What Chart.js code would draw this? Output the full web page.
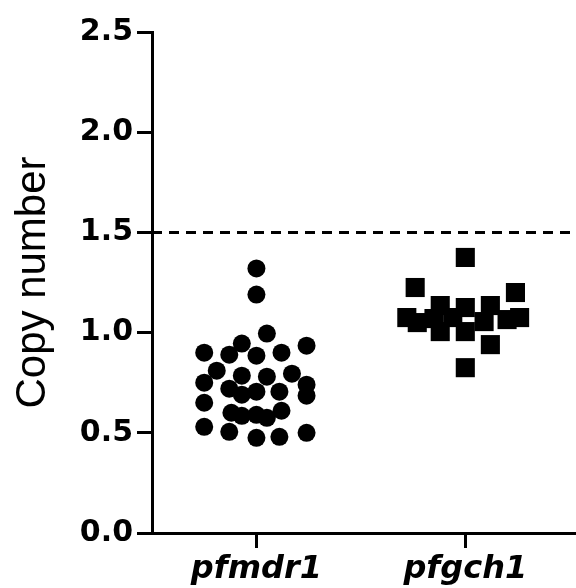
<!DOCTYPE html>
<html>
<head>
<meta charset="utf-8">
<script src="https://cdn.jsdelivr.net/npm/chart.js@4"></script>
<style>
  html, body { margin: 0; padding: 0; background: #fff; }
  #chart { display: block; }
</style>
</head>
<body>
<canvas id="chart" width="576" height="588"></canvas>
<script>
const categories = ["pfmdr1", "pfgch1"];
const yTicks = [0, 0.5, 1.0, 1.5, 2.0, 2.5];
const cutoff = 1.5;

// copy number per isolate
const mdr1Values = [1.32, 1.19, 0.995, 0.90, 0.89, 0.945, 0.885, 0.90, 0.935, 0.81,
  0.75, 0.785, 0.78, 0.795, 0.74, 0.72, 0.69, 0.705, 0.705, 0.685,
  0.65, 0.60, 0.585, 0.59, 0.575, 0.61, 0.53, 0.505, 0.475, 0.48, 0.50];
// horizontal scatter of each dot inside its column (category units)
const mdr1Jitter = [0, 0, 0.05, -0.25, -0.13, -0.07, 0, 0.12, 0.24, -0.19,
  -0.25, -0.07, 0.05, 0.17, 0.24, -0.13, -0.07, 0, 0.11, 0.24,
  -0.25, -0.12, -0.07, 0, 0.05, 0.12, -0.25, -0.13, 0, 0.11, 0.24];

const gch1Values = [1.375, 1.225, 1.20, 1.075, 1.05, 1.07, 1.135, 1.005, 1.075,
  1.125, 1.005, 1.055, 1.135, 0.94, 1.065, 1.075, 0.825];
const gch1Jitter = [0, -0.24, 0.24, -0.28, -0.23, -0.15, -0.12, -0.12, -0.06,
  0, 0, 0.09, 0.12, 0.12, 0.2, 0.26, 0];

const xMin = 0.5, xMax = 2.53;

function toPoints(values, jitter, pos) {
  return values.map((v, i) => ({ x: pos + jitter[i], y: v }));
}

new Chart(document.getElementById("chart"), {
  type: "scatter",
  data: {
    datasets: [
      {
        label: categories[0],
        data: toPoints(mdr1Values, mdr1Jitter, 1),
        pointStyle: "circle",
        pointRadius: 9,
        backgroundColor: "#000",
        borderWidth: 0
      },
      {
        label: categories[1],
        data: toPoints(gch1Values, gch1Jitter, 2),
        pointStyle: "rect",
        pointRadius: 13.5,
        backgroundColor: "#000",
        borderWidth: 0
      },
      {
        type: "line",
        label: "cutoff",
        data: [{ x: xMin, y: cutoff }, { x: xMax, y: cutoff }],
        borderColor: "#000",
        borderWidth: 3,
        borderDash: [10, 7],
        pointRadius: 0,
        fill: false
      }
    ]
  },
  options: {
    responsive: false,
    animation: false,
    layout: { autoPadding: false, padding: { top: 32, right: 0, left: 0, bottom: 0 } },
    plugins: { legend: { display: false }, tooltip: { enabled: false } },
    scales: {
      x: {
        type: "linear",
        min: xMin,
        max: xMax,
        afterBuildTicks: (s) => { s.ticks = categories.map((c, i) => ({ value: i + 1 })); },
        afterFit: (s) => { s.height = 55; s.paddingLeft = 0; s.paddingRight = 0; },
        grid: { drawOnChartArea: false, color: "#000", lineWidth: 3, tickLength: 15 },
        border: { color: "#000", width: 3 },
        ticks: {
          color: "#000",
          padding: 2,
          autoSkip: false,
          maxRotation: 0,
          font: { family: "DejaVu Sans", size: 32, weight: "bold", style: "italic" },
          callback: (v) => categories[v - 1]
        }
      },
      y: {
        min: 0,
        max: 2.5,
        afterBuildTicks: (s) => { s.ticks = yTicks.map(v => ({ value: v })); },
        afterFit: (s) => { s.width = 152; },
        grid: { drawOnChartArea: false, color: "#000", lineWidth: 3, tickLength: 15 },
        border: { color: "#000", width: 3 },
        title: {
          display: true,
          text: "Copy number",
          color: "#000",
          padding: { top: 8, bottom: 0 },
          font: { family: "Liberation Sans", size: 42, weight: "normal" }
        },
        ticks: {
          color: "#000",
          padding: 4,
          font: { family: "DejaVu Sans", size: 30, weight: "bold" },
          callback: (v) => v.toFixed(1)
        }
      }
    }
  }
});
</script>
</body>
</html>
